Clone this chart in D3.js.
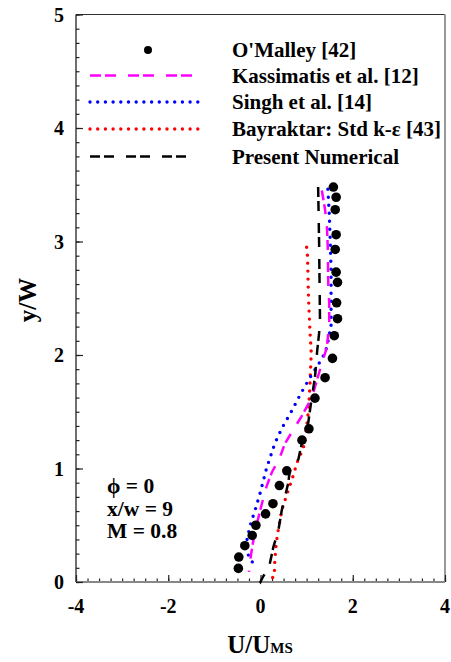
<!DOCTYPE html>
<html>
<head>
<meta charset="utf-8">
<script src="https://cdn.jsdelivr.net/npm/d3@7/dist/d3.min.js"></script>
<style>
  html, body { margin: 0; padding: 0; background: #fff; }
  svg { display: block; }
  text { font-family: "Liberation Serif", "Times New Roman", serif; font-weight: bold; fill: #000; }
</style>
</head>
<body>
<svg id="chart" width="451" height="662"></svg>
<script>
// ---- data (U/Ums, y/W) ----
const omalley = [
  [1.58,3.48],[1.64,3.39],[1.62,3.28],[1.64,3.06],[1.62,2.93],[1.64,2.73],[1.67,2.64],
  [1.65,2.46],[1.67,2.32],[1.60,2.17],[1.56,1.97],[1.40,1.80],[1.18,1.62],[1.05,1.35],
  [0.90,1.25],[0.57,0.98],[0.41,0.85],[0.27,0.69],[0.11,0.60],[-0.10,0.50],[-0.18,0.41],
  [-0.34,0.32],[-0.47,0.22],[-0.48,0.12]
];
const kassimatis = [
  [1.33,3.45],[1.40,3.28],[1.44,3.13],[1.46,2.93],[1.47,2.60],[1.49,2.46],[1.49,2.28],
  [1.44,2.07],[1.29,1.87],[1.11,1.62],[0.89,1.46],[0.53,1.22],[0.42,1.10],[0.24,0.96],
  [0.13,0.84],[0.03,0.69],[-0.05,0.56],[-0.12,0.44],[-0.18,0.31],[-0.23,0.17],[-0.25,0.09]
];
const singh = [
  [1.46,3.46],[1.49,3.25],[1.51,3.03],[1.53,2.75],[1.53,2.46],[1.53,2.25],[1.51,2.22],
  [1.45,2.09],[1.40,2.02],[1.29,1.94],[1.07,1.80],[0.86,1.65],[0.68,1.51],[0.47,1.36],
  [0.31,1.22],[0.13,1.00],[-0.01,0.78],[-0.12,0.63],[-0.23,0.49],[-0.30,0.36],[-0.30,0.28],
  [-0.23,0.20],[-0.07,0.13]
];
const bayraktar = [
  [1.00,2.95],[1.02,2.87],[1.04,2.51],[1.07,2.23],[1.10,2.02],[1.07,1.72],[1.05,1.57],
  [1.02,1.43],[0.93,1.18],[0.80,1.06],[0.68,0.90],[0.57,0.77],[0.46,0.63],[0.39,0.47],
  [0.34,0.34],[0.31,0.19],[0.30,0.05],[0.13,0.00]
];
const present = [
  [1.25,3.48],[1.27,3.00],[1.29,2.31],[1.27,2.19],[1.23,2.04],[1.18,1.80],[1.11,1.62],
  [1.02,1.36],[0.89,1.21],[0.82,1.08],[0.64,0.99],[0.60,0.87],[0.46,0.63],[0.39,0.46],
  [0.28,0.31],[0.19,0.14],[0.06,0.05],[0.00,0.00],[-0.06,0.04]
];
const xTicks = [-4, -2, 0, 2, 4];
const yTicks = [0, 1, 2, 3, 4, 5];
const legendLabels = ["O'Malley [42]", "Kassimatis et al. [12]", "Singh et al. [14]",
                      "Bayraktar: Std k-\u03b5 [43]", "Present Numerical"];
const annotations = ["\u03d5 = 0", "x/w = 9", "M = 0.8"];

// ---- layout ----
const svg = d3.select("#chart");
const L = 76, R = 445, T = 14.5, B = 582;
const x = d3.scaleLinear().domain([-4, 4]).range([L, R]);
const y = d3.scaleLinear().domain([0, 5]).range([B, T]);

// frame
svg.append("line").attr("x1", L).attr("x2", R).attr("y1", T).attr("y2", T)
  .attr("stroke", "#333").attr("stroke-width", 1.2);
svg.append("line").attr("x1", R).attr("x2", R).attr("y1", T).attr("y2", B)
  .attr("stroke", "#999").attr("stroke-width", 2);

// axes with inward ticks
const xMinor = d3.range(-4, 4.001, 0.25);
const yMinor = d3.range(0, 5.001, 0.125);
const gx = svg.append("g").attr("transform", `translate(0,${B})`);
gx.call(d3.axisTop(x).tickValues(xMinor).tickSize(3.5).tickFormat(""));
gx.select(".domain").remove();
gx.selectAll("line").attr("stroke", "#222").attr("stroke-width", 1.2);
const gx2 = svg.append("g").attr("transform", `translate(0,${B})`);
gx2.call(d3.axisTop(x).tickValues(xTicks).tickSize(7).tickFormat(""));
gx2.select(".domain").remove();
gx2.selectAll("line").attr("stroke", "#222").attr("stroke-width", 1.2);
svg.append("line").attr("x1", L).attr("x2", R).attr("y1", B).attr("y2", B)
  .attr("stroke", "#888").attr("stroke-width", 2);

const gy = svg.append("g").attr("transform", `translate(${L},0)`);
gy.call(d3.axisRight(y).tickValues(yMinor).tickSize(3.5).tickFormat(""));
gy.select(".domain").remove();
gy.selectAll("line").attr("stroke", "#222").attr("stroke-width", 1.2);
const gy2 = svg.append("g").attr("transform", `translate(${L},0)`);
gy2.call(d3.axisRight(y).tickValues(yTicks).tickSize(7).tickFormat(""));
gy2.select(".domain").remove();
gy2.selectAll("line").attr("stroke", "#222").attr("stroke-width", 1.2);
svg.append("line").attr("x1", L).attr("x2", L).attr("y1", T).attr("y2", B)
  .attr("stroke", "#222").attr("stroke-width", 1.3);

// tick labels
svg.append("g").selectAll("text").data(xTicks).join("text")
  .attr("x", d => x(d)).attr("y", 613).attr("text-anchor", "middle")
  .attr("font-size", 20).text(d => d);
svg.append("g").selectAll("text").data(yTicks).join("text")
  .attr("x", 64).attr("y", d => y(d)).attr("dy", "0.35em").attr("text-anchor", "end")
  .attr("font-size", 20).text(d => d);

// axis titles
const xt = svg.append("text").attr("x", 260).attr("y", 653).attr("text-anchor", "middle")
  .attr("font-size", 25);
xt.append("tspan").text("U/U");
xt.append("tspan").attr("font-size", 15).text("MS");
svg.append("text").attr("transform", "translate(36,300) rotate(-90)")
  .attr("text-anchor", "middle").attr("font-size", 25).text("y/W");

// series
const line = d3.line().x(d => x(d[0])).y(d => y(d[1]));
const plotG = svg.append("g");
plotG.append("path").datum(bayraktar).attr("d", line).attr("fill", "none")
  .attr("stroke", "#ff0000").attr("stroke-width", 3.4).attr("stroke-linecap", "round")
  .attr("stroke-dasharray", "0,8");
plotG.append("path").datum(singh).attr("d", line).attr("fill", "none")
  .attr("stroke", "#0000ff").attr("stroke-width", 3.4).attr("stroke-linecap", "round")
  .attr("stroke-dasharray", "0,8");
plotG.append("path").datum(kassimatis).attr("d", line).attr("fill", "none")
  .attr("stroke", "#ff00ff").attr("stroke-width", 2.5)
  .attr("stroke-dasharray", "10,4,10,12");
plotG.append("path").datum(present).attr("d", line).attr("fill", "none")
  .attr("stroke", "#000").attr("stroke-width", 2.5)
  .attr("stroke-dasharray", "10,4,10,12");
plotG.selectAll("circle").data(omalley).join("circle")
  .attr("cx", d => x(d[0])).attr("cy", d => y(d[1])).attr("r", 4.8).attr("fill", "#000");

// legend
const legY = [50, 75.5, 102, 129, 156.5];
const lg = svg.append("g");
lg.append("circle").attr("cx", 148).attr("cy", legY[0]).attr("r", 4).attr("fill", "#000");
const legStyles = [
  null,
  {c: "#ff00ff", w: 2.5, d: "11,4,11,12", cap: "butt"},
  {c: "#0000ff", w: 3.4, d: "0,7.7", cap: "round"},
  {c: "#ff0000", w: 3.4, d: "0,7.7", cap: "round"},
  {c: "#000", w: 2.5, d: "10,4,10,12", cap: "butt"}
];
legStyles.forEach((s, i) => {
  if (!s) return;
  lg.append("line").attr("x1", 90).attr("x2", 198).attr("y1", legY[i]).attr("y2", legY[i])
    .attr("stroke", s.c).attr("stroke-width", s.w).attr("stroke-dasharray", s.d)
    .attr("stroke-linecap", s.cap);
});
lg.selectAll("text").data(legendLabels).join("text")
  .attr("x", 232).attr("y", (d, i) => legY[i] + 7).attr("font-size", 21).text(d => d);

// annotations
svg.append("g").selectAll("text").data(annotations).join("text")
  .attr("x", 107).attr("y", (d, i) => 493 + i * 22.5).attr("font-size", 21.5).text(d => d);
</script>
</body>
</html>
